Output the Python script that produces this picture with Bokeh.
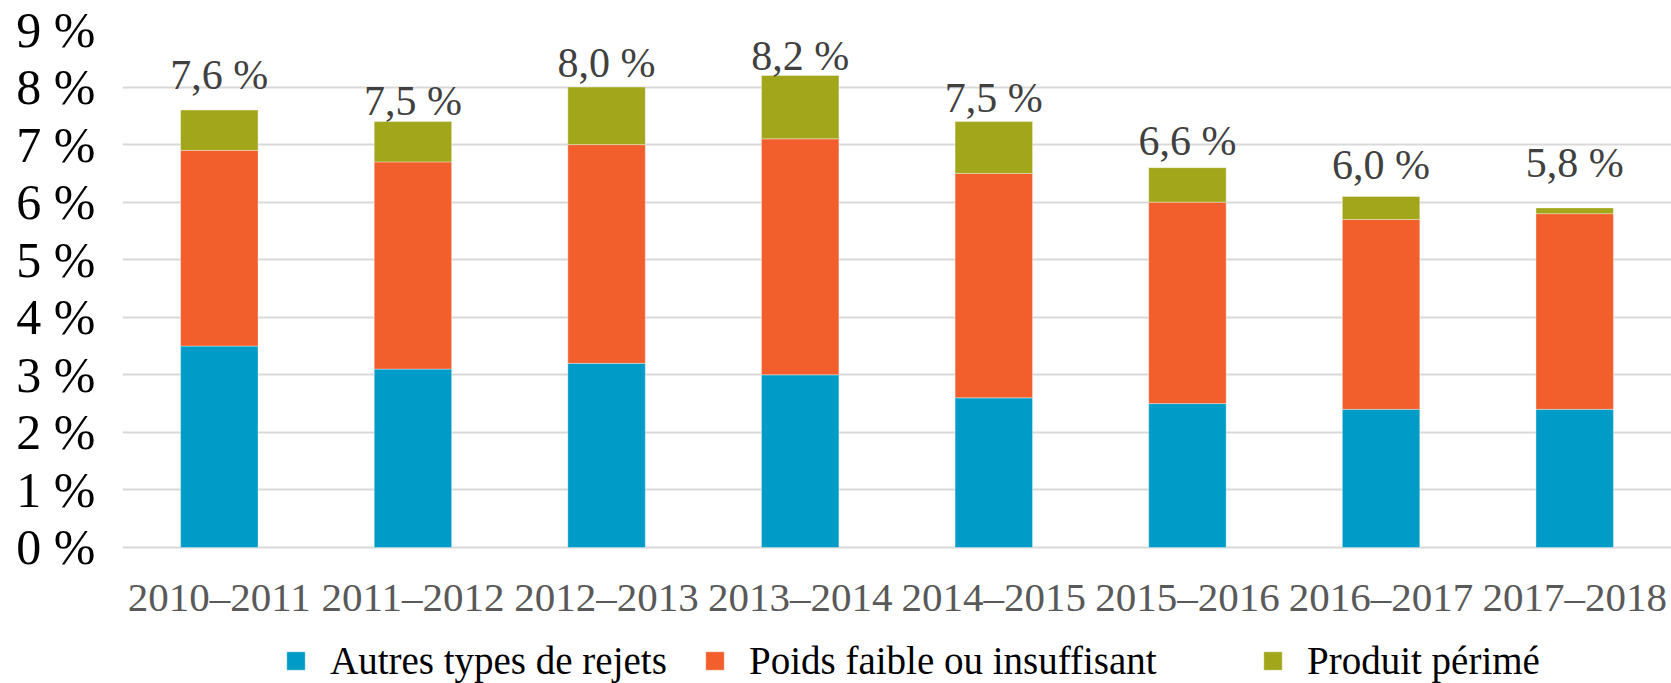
from bokeh.plotting import figure
from bokeh.models import Range1d, FactorRange, FixedTicker, Legend, LegendItem
from bokeh.core.properties import value
from bokeh.embed import file_html
from bokeh.resources import INLINE

categories = ["2010–2011", "2011–2012", "2012–2013", "2013–2014",
              "2014–2015", "2015–2016", "2016–2017", "2017–2018"]
autres = [3.5, 3.1, 3.2, 3.0, 2.6, 2.5, 2.4, 2.4]
poids = [3.4, 3.6, 3.8, 4.1, 3.9, 3.5, 3.3, 3.4]
perime = [0.7, 0.7, 1.0, 1.1, 0.9, 0.6, 0.4, 0.1]
total_labels = ["7,6 %", "7,5 %", "8,0 %", "8,2 %", "7,5 %", "6,6 %", "6,0 %", "5,8 %"]
label_pos = [7.96, 7.52, 8.17, 8.29, 7.57, 6.82, 6.41, 6.43]
y_ticks = [0, 1, 2, 3, 4, 5, 6, 7, 8, 9]
series_names = ["Autres types de rejets", "Poids faible ou insuffisant", "Produit périmé"]
colors = ["#009CC7", "#F25F2C", "#A2A61A"]

FONT = "Liberation Serif"

# frame extends below 0 so that the legend (inside the frame) can sit under the axis labels
p = figure(width=1671, height=683, x_range=FactorRange(*categories, range_padding=0),
           y_range=Range1d(-2.363, 9), output_backend="svg", toolbar_location=None,
           min_border_left=122, min_border_right=0, min_border_top=29, min_border_bottom=0)
p.outline_line_color = None

data = dict(cat=categories, autres=autres, poids=poids, perime=perime)
renderers = p.vbar_stack(["autres", "poids", "perime"], x="cat", width=0.4, source=data,
                         color=colors, line_color="white", line_alpha=0.35, line_width=1)

p.text(x=categories, y=label_pos, text=total_labels, text_align="center",
       text_baseline="alphabetic", y_offset=-14, text_font=value(FONT),
       text_font_size="42px", text_color="#404040")

p.xgrid.grid_line_color = None
p.ygrid.grid_line_color = "#d9d9d9"
p.ygrid.grid_line_width = 2
p.yaxis.ticker = FixedTicker(ticks=y_ticks)
p.yaxis.major_label_overrides = {t: f"{t} %" for t in y_ticks}

for ax in (p.xaxis[0], p.yaxis[0]):
    ax.axis_line_color = None
    ax.major_tick_line_color = None
    ax.minor_tick_line_color = None
    ax.major_label_text_font = FONT

p.xaxis.fixed_location = 0
p.yaxis.major_label_text_font_size = "50px"
p.yaxis.major_label_text_color = "black"
p.yaxis.major_label_standoff = 21
p.xaxis.major_label_text_font_size = "41px"
p.xaxis.major_label_text_color = "#595959"
p.xaxis.major_label_standoff = 21

legend_x = [162, 581, 1139]
for name, r, lx in zip(series_names, renderers, legend_x):
    lg = Legend(items=[LegendItem(label=name, renderers=[r])], location=(lx, 0),
                orientation="horizontal", border_line_color=None, background_fill_alpha=0,
                padding=0, margin=0, glyph_width=23, glyph_height=23, label_standoff=23,
                label_text_font=FONT, label_text_font_size="39px", label_text_color="black")
    p.add_layout(lg, "center")

open("out.html", "w").write(file_html(p, INLINE))
